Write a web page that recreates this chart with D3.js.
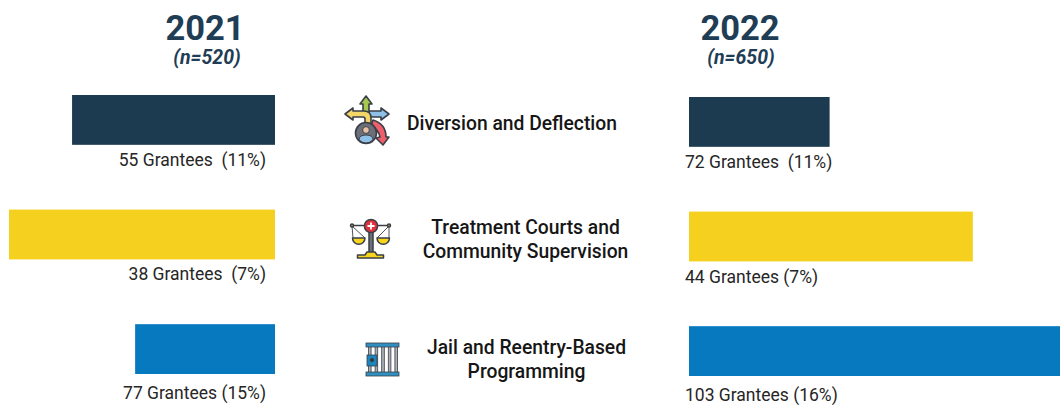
<!DOCTYPE html>
<html>
<head>
<meta charset="utf-8">
<script src="https://cdn.jsdelivr.net/npm/d3@7"></script>
<style>
html,body{margin:0;padding:0;background:#fff;overflow:hidden}
text{font-family:Roboto,sans-serif;white-space:pre}
</style>
</head>
<body>
<svg id="chart"></svg>
<script>
var categories=["Diversion and Deflection","Treatment Courts and Community Supervision","Jail and Reentry-Based Programming"];
var categoryLines=[["Diversion and Deflection"],["Treatment Courts and","Community Supervision"],["Jail and Reentry-Based","Programming"]];
var colors=["#1c3b50","#f5d01e","#0779bf"];
var years=["2021","2022"];
var sampleSizes=["(n=520)","(n=650)"];
// bar length, longest bar = 100
var bars2021=[54.7,71.7,37.7];
var bars2022=[37.9,76.5,100];
var labels2021=["55 Grantees  (11%)","38 Grantees  (7%)","77 Grantees (15%)"];
var labels2022=["72 Grantees  (11%)","44 Grantees (7%)","103 Grantees (16%)"];

var w=1060;
var h=405;
var navy="#1f3d55";
var ink="#262626";

var svg=d3.select("#chart").attr("width",w).attr("height",h).style("display","block");

var yScale=d3.scaleBand()
             .domain(categories)
             .range([95,374])
             .paddingInner(65/115);
var lenScale=d3.scaleLinear().domain([0,100]).range([0,371]);

function panel(values,labels,color,opts){
  var g=svg.append("g").attr("transform","translate(0,"+opts.dy+")");
  g.selectAll("rect")
   .data(values)
   .enter().append("rect")
   .attr("x",function(d){return opts.side=="left" ? opts.base-lenScale(d) : opts.base;})
   .attr("y",function(d,i){return yScale(categories[i]);})
   .attr("width",function(d){return lenScale(d);})
   .attr("height",yScale.bandwidth())
   .attr("fill",function(d,i){return color[i];});
  g.selectAll("text")
   .data(labels)
   .enter().append("text")
   .attr("x",opts.labelX)
   .attr("y",function(d,i){return opts.labelY[i]-opts.dy;})
   .attr("text-anchor",opts.side=="left" ? "end" : "start")
   .attr("font-size",17.5)
   .attr("fill",ink)
   .text(function(d){return d;});
}
panel(bars2021,labels2021,colors,{side:"left",base:275,labelX:266,labelY:[166,280,399],dy:0});
panel(bars2022,labels2022,colors,{side:"right",base:689,labelX:685,labelY:[168,283,401],dy:2});

// year headers
var headerX=[205,740];
var nX=[207,741];
svg.selectAll(".year")
   .data(years)
   .enter().append("text")
   .attr("class","year")
   .attr("x",function(d,i){return headerX[i];})
   .attr("y",39.5)
   .attr("text-anchor","middle")
   .attr("font-size",34.5)
   .attr("font-weight",700)
   .attr("fill",navy)
   .text(function(d){return d;});
svg.selectAll(".nlabel")
   .data(sampleSizes)
   .enter().append("text")
   .attr("class","nlabel")
   .attr("x",function(d,i){return nX[i];})
   .attr("y",64)
   .attr("text-anchor","middle")
   .attr("font-size",19.5)
   .attr("font-weight",700)
   .attr("font-style","italic")
   .attr("fill",navy)
   .text(function(d){return d;});

// category captions
var captionX=[512,525.5,526.5];
var captionY=[130,234,354];
categoryLines.forEach(function(lines,i){
  lines.forEach(function(line,j){
    svg.append("text")
       .attr("x",captionX[i])
       .attr("y",captionY[i]+j*24)
       .attr("text-anchor","middle")
       .attr("font-size",19.3)
       .attr("font-weight",500)
       .attr("fill","#161616")
       .text(line);
  });
});

// icons
var stroke="#3a3f47";
var icon1=svg.append("g").attr("stroke",stroke).attr("stroke-width",1.6).attr("stroke-linejoin","round");
icon1.append("path").attr("fill","#a5c94f").attr("d","M366 96L372 104H369V116H363V104H360Z");
icon1.append("path").attr("fill","#8fc1e8").attr("d","M389 114L381 108V111H369V117H381V120Z");
icon1.append("path").attr("fill","#f3d667").attr("d","M345 114L353 108V111H364Q371 111 371 118V124H365V119Q365 117 363 117H353V120Z");
icon1.append("path").attr("fill","#ee5f6c").attr("d","M373 120Q386 124 386 137L389 137L383 145L376 138L380 137Q379 130 371 126Z");
icon1.append("circle").attr("cx",366).attr("cy",133).attr("r",10.5).attr("fill","#6d6f78");
icon1.append("circle").attr("cx",366).attr("cy",130).attr("r",3.4).attr("fill","#e8c3a8").attr("stroke-width",1);
icon1.append("path").attr("fill","#8fc1e8").attr("stroke-width",1).attr("d","M359 140Q359 135 366 135Q373 135 373 140Q366 146 359 140Z");

var icon2=svg.append("g").attr("stroke",stroke).attr("stroke-width",1.5).attr("stroke-linejoin","round").attr("fill","none");
icon2.append("path").attr("d","M352 225.5H389");
icon2.append("path").attr("d","M352 226L353 238M352 226L365 238M389 226L377 238M389 226L389 238").attr("stroke-width",.9);
icon2.append("circle").attr("cx",352).attr("cy",225.5).attr("r",1.5).attr("fill","#b9a62a");
icon2.append("circle").attr("cx",389).attr("cy",225.5).attr("r",1.5).attr("fill","#b9a62a");
icon2.append("rect").attr("x",369).attr("y",226).attr("width",4).attr("height",28).attr("fill","#6d6f78");
icon2.append("path").attr("fill","#f7d51d").attr("d","M352.5 238H365A6.2 6.2 0 0 1 352.5 238Z");
icon2.append("path").attr("fill","#f7d51d").attr("d","M377 238H389.5A6.2 6.2 0 0 1 377 238Z");
icon2.append("path").attr("fill","#f7d51d").attr("d","M367 252H375L377 255H383.5V258H357.5V255H365Z");
icon2.append("circle").attr("cx",371).attr("cy",226).attr("r",6.6).attr("fill","#e0313c").attr("stroke-width",1.5);
icon2.append("path").attr("stroke","#fff").attr("stroke-width",1.8).attr("d","M371 222.5V229.5M367.5 226H374.5");

var icon3=svg.append("g").attr("stroke",stroke).attr("stroke-width",.8);
icon3.selectAll(".jailBar")
     .data([0,1,2,3,4])
     .enter().append("rect")
     .attr("class","jailBar")
     .attr("x",function(d){return 368.5+d*6.6;})
     .attr("y",346)
     .attr("width",2.6)
     .attr("height",27)
     .attr("fill","#a8b1b6");
icon3.append("rect").attr("x",366).attr("y",343).attr("width",33).attr("height",4).attr("fill","#2f8fc0");
icon3.append("rect").attr("x",366).attr("y",372).attr("width",33).attr("height",4).attr("fill","#2f8fc0");
icon3.append("rect").attr("x",367).attr("y",355).attr("width",10).attr("height",11).attr("fill","#1b86bd");
icon3.append("circle").attr("cx",372).attr("cy",360).attr("r",1.8).attr("fill","#333");
</script>
</body>
</html>
